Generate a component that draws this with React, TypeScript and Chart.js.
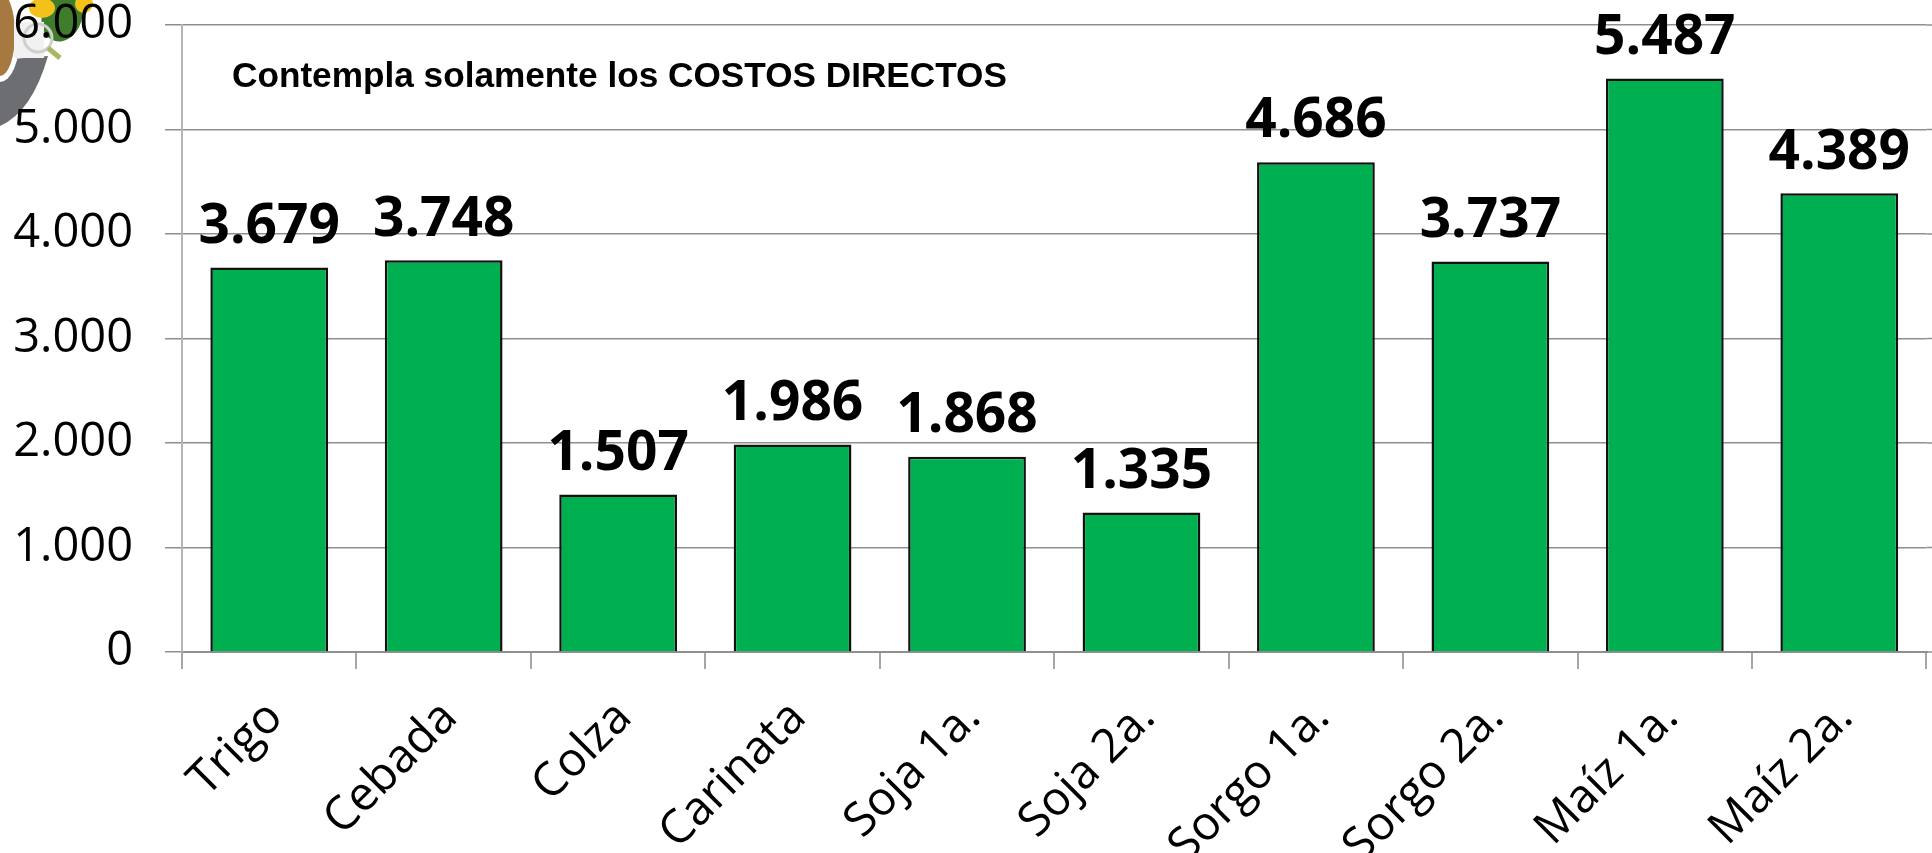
import React, { useEffect, useRef } from "react";
import { Chart, registerables } from "chart.js";

Chart.register(...registerables);

const categories = ["Trigo", "Cebada", "Colza", "Carinata", "Soja 1a.", "Soja 2a.", "Sorgo 1a.", "Sorgo 2a.", "Maíz 1a.", "Maíz 2a."];
const costs = [3679, 3748, 1507, 1986, 1868, 1335, 4686, 3737, 5487, 4389];
const yTicks = ["0", "1.000", "2.000", "3.000", "4.000", "5.000", "6.000"];
const note = "Contempla solamente los COSTOS DIRECTOS";

const fmt = (v: number) => {
  const s = String(Math.round(v));
  return s.length > 3 ? s.slice(0, -3) + "." + s.slice(-3) : s;
};

const logoPlugin = {
  id: "logo",
  beforeDraw(chart: any) {
    const c = chart.ctx;
    c.save();
    // grey swoosh
    c.fillStyle = "#6d6e71";
    c.beginPath();
    c.moveTo(0, 126);
    c.quadraticCurveTo(32, 112, 48, 56);
    c.lineTo(0, 60);
    c.closePath();
    c.fill();
    // white ring + food photo
    c.fillStyle = "#ffffff";
    c.beginPath();
    c.ellipse(0, 36, 20, 46, 0, 0, Math.PI * 2);
    c.fill();
    c.fillStyle = "#a5793f";
    c.beginPath();
    c.ellipse(0, 34, 15, 42, 0, 0, Math.PI * 2);
    c.fill();
    // green and yellow crop
    c.fillStyle = "#3f7d2c";
    c.beginPath();
    c.ellipse(62, 16, 20, 26, 0.3, 0, Math.PI * 2);
    c.fill();
    c.fillStyle = "#f2c21a";
    c.beginPath();
    c.ellipse(42, 8, 13, 10, 0, 0, Math.PI * 2);
    c.ellipse(84, 4, 9, 9, 0, 0, Math.PI * 2);
    c.fill();
    // document and magnifier
    c.fillStyle = "#f1f1f1";
    c.fillRect(14, 22, 30, 36);
    c.strokeStyle = "#cfcfcf";
    c.lineWidth = 3;
    c.beginPath();
    c.arc(38, 38, 14, 0, Math.PI * 2);
    c.stroke();
    c.strokeStyle = "#a8b860";
    c.lineWidth = 5;
    c.beginPath();
    c.moveTo(48, 48);
    c.lineTo(60, 58);
    c.stroke();
    c.restore();
  },
};

const labelPlugin = {
  id: "labels",
  beforeDatasetsDraw(chart: any) {
    const c = chart.ctx;
    const y = chart.scales.y;
    const area = chart.chartArea;
    c.save();
    c.strokeStyle = "#8f8f8f";
    c.lineWidth = 1.5;
    yTicks.forEach((_, i) => {
      const py = y.getPixelForValue(i * 1000);
      c.beginPath();
      c.moveTo(area.right, py);
      c.lineTo(chart.width, py);
      c.stroke();
    });
    c.restore();
  },
  afterDraw(chart: any) {
    const c = chart.ctx;
    const meta = chart.getDatasetMeta(0);
    c.save();
    c.fillStyle = "#000";
    c.textAlign = "center";
    c.textBaseline = "bottom";
    c.font = "bold 55px 'Open Sans'";
    meta.data.forEach((bar: any, i: number) => {
      c.fillText(fmt(costs[i]), bar.x, bar.y - 13);
    });
    c.textAlign = "left";
    c.textBaseline = "middle";
    c.font = "bold 35.2px 'Liberation Sans'";
    c.fillText(note, 232, 77.5);
    c.restore();
  },
};

export default function App() {
  const ref = useRef<HTMLCanvasElement>(null);
  useEffect(() => {
    document.body.style.margin = "0";
    document.body.style.overflow = "hidden";
    const chart = new Chart(ref.current as HTMLCanvasElement, {
      type: "bar",
      data: {
        labels: categories,
        datasets: [
          {
            data: costs,
            backgroundColor: "#00B050",
            borderColor: "#111111",
            borderWidth: 2.5,
            barPercentage: 0.675,
            categoryPercentage: 1,
          },
        ],
      },
      plugins: [logoPlugin, labelPlugin],
      options: {
        animation: false,
        responsive: false,
        layout: { padding: { top: 25, right: 5.5, left: 0, bottom: 0 } },
        plugins: { legend: { display: false }, tooltip: { enabled: false }, title: { display: false } },
        scales: {
          x: {
            afterFit(s: any) {
              s.height = 201;
              s.paddingRight = 0;
              s.paddingLeft = 0;
            },
            grid: { drawOnChartArea: false, drawTicks: true, tickLength: 17, color: "#a6a6a6", lineWidth: 2, offset: true },
            border: { color: "#8f8f8f", width: 2 },
            ticks: {
              maxRotation: 45,
              minRotation: 45,
              autoSkip: false,
              color: "#000",
              padding: 21,
              labelOffset: 6,
              font: { family: "'Open Sans'", size: 47 },
            },
          },
          y: {
            min: 0,
            max: 6000,
            afterFit(s: any) {
              s.width = 182;
              s.paddingTop = 0;
              s.paddingBottom = 0;
            },
            afterBuildTicks(s: any) {
              s.ticks = yTicks.map((_, i) => ({ value: i * 1000 }));
            },
            grid: { color: "#8f8f8f", lineWidth: 1.5, tickLength: 17 },
            border: { color: "#b5b5b5", width: 2 },
            ticks: {
              color: "#000",
              padding: 32,
              font: { family: "'Open Sans'", size: 47 },
              callback: (_v: any, i: number) => yTicks[i],
            },
          },
        },
      },
    } as any);
    return () => chart.destroy();
  }, []);
  return <canvas ref={ref} width={1932} height={853} style={{ display: "block" }} />;
}
